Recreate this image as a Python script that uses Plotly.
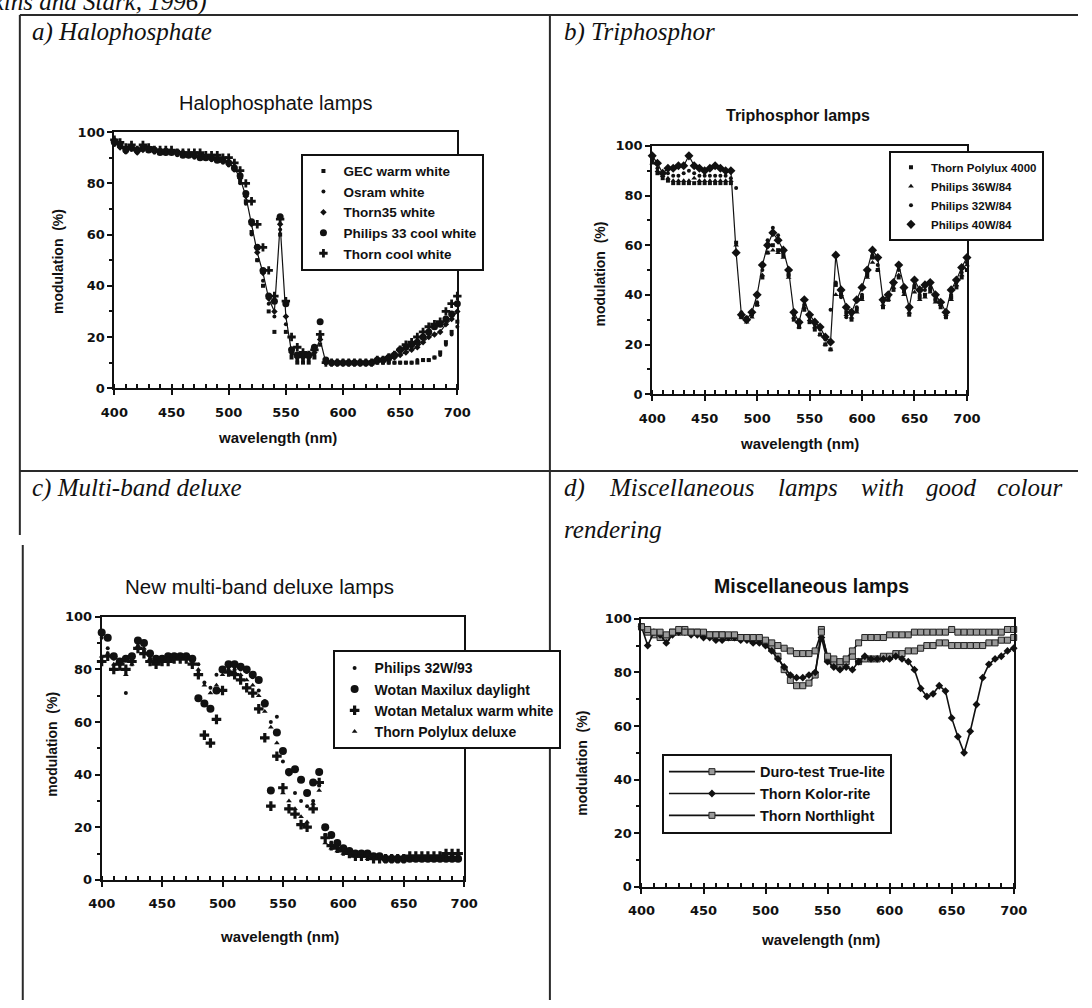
import plotly.graph_objects as go

W, H = 1092, 1008

# ---------------- data ----------------
wl = list(range(400, 701, 5))      # 61 wavelengths
wl_c = list(range(400, 696, 5))    # 60 wavelengths (panel c)

# a) Halophosphate lamps
halo_names = ["GEC warm white", "Osram white", "Thorn35 white", "Philips 33 cool white", "Thorn cool white"]
halo_gec = [96, 95, 93, 94, 93, 94, 93, 93, 92, 93,
            92, 92, 92, 91, 91, 91, 90, 90, 89, 89,
            88, 86, 81, 73, 61, 50, 40, 30, 22, 60,
            22, 12, 10, 10, 10, 12, 17, 10, 10, 10,
            10, 10, 10, 10, 10, 10, 10, 10, 10, 10,
            10, 10, 10, 10, 11, 11, 12, 14, 18, 22,
            26]
halo_osram = [95, 94, 92, 93, 92, 93, 93, 92, 92, 92,
              92, 91, 91, 91, 90, 90, 90, 89, 89, 88,
              87, 85, 80, 72, 60, 50, 42, 33, 28, 62,
              25, 13, 11, 11, 11, 13, 20, 10, 10, 10,
              10, 10, 10, 10, 10, 10, 10, 10, 10, 10,
              10, 10, 10, 11, 11, 11, 12, 13, 17, 21,
              24]
halo_thorn35 = [97, 94, 93, 94, 92, 93, 94, 93, 93, 92,
                92, 92, 92, 91, 91, 91, 90, 90, 90, 89,
                88, 86, 82, 75, 64, 53, 45, 35, 30, 64,
                28, 14, 12, 12, 12, 14, 19, 10, 10, 10,
                10, 10, 10, 10, 10, 10, 11, 11, 11, 12,
                13, 14, 15, 16, 18, 20, 21, 22, 25, 27,
                30]
halo_philips33 = [96, 95, 93, 94, 93, 94, 93, 93, 92, 92,
                  92, 92, 91, 91, 91, 90, 90, 90, 89, 89,
                  88, 86, 83, 76, 65, 55, 46, 36, 34, 67,
                  33, 15, 13, 13, 13, 16, 26, 11, 10, 10,
                  10, 10, 10, 10, 10, 10, 11, 11, 12, 13,
                  15, 16, 17, 18, 20, 22, 24, 25, 27, 29,
                  33]
halo_thorncool = [97, 96, 94, 95, 93, 95, 94, 93, 93, 93,
                  93, 92, 92, 92, 92, 92, 91, 91, 91, 90,
                  90, 88, 85, 80, 73, 64, 55, 46, 36, 66,
                  34, 20, 16, 14, 13, 15, 21, 10, 10, 10,
                  10, 10, 10, 10, 10, 10, 11, 11, 12, 13,
                  15, 17, 18, 20, 22, 24, 25, 26, 30, 33,
                  36]

# b) Triphosphor lamps
tri_names = ["Thorn Polylux 4000", "Philips 36W/84", "Philips 32W/84", "Philips 40W/84"]
tri_polylux = [94, 89, 87, 86, 85, 85, 85, 85, 85, 85,
               85, 85, 85, 85, 85, 85, 61, 31, 30, 32,
               36, 47, 57, 60, 58, 56, 48, 30, 27, 34,
               29, 26, 24, 20, 18, 44, 40, 33, 30, 34,
               39, 48, 55, 50, 35, 38, 42, 47, 42, 32,
               43, 39, 40, 42, 38, 35, 31, 39, 43, 47,
               50]
tri_p36 = [93, 90, 88, 87, 86, 86, 86, 86, 87, 86,
           86, 86, 86, 86, 86, 86, 60, 31, 29, 31,
           36, 48, 57, 58, 57, 55, 47, 31, 27, 35,
           30, 27, 24, 20, 18, 40, 40, 32, 31, 33,
           38, 47, 53, 50, 36, 38, 43, 48, 40, 33,
           41, 38, 39, 41, 37, 36, 32, 38, 44, 48,
           52]
tri_p32 = [95, 91, 89, 89, 88, 88, 89, 90, 89, 88,
           88, 88, 88, 88, 88, 87, 83, 33, 31, 32,
           37, 50, 62, 67, 64, 57, 48, 32, 28, 36,
           31, 28, 26, 22, 34, 45, 39, 31, 32, 35,
           40, 49, 56, 52, 37, 39, 44, 50, 41, 34,
           44, 40, 42, 43, 38, 36, 31, 40, 45, 49,
           53]
tri_p40 = [96, 93, 89, 91, 91, 92, 92, 96, 92, 91,
           90, 91, 92, 91, 90, 90, 57, 32, 30, 33,
           40, 52, 60, 65, 62, 58, 50, 33, 29, 38,
           32, 29, 27, 23, 21, 56, 42, 35, 33, 38,
           43, 50, 58, 55, 38, 40, 45, 52, 43, 35,
           46, 42, 44, 45, 40, 37, 33, 42, 46, 51,
           55]

# c) New multi-band deluxe lamps
mb_names = ["Philips 32W/93", "Wotan Maxilux daylight", "Wotan Metalux warm white", "Thorn Polylux deluxe"]
mb_p32 = [92, 88, 84, 82, 71, 84, 88, 87, 84, 83,
          84, 84, 85, 85, 85, 84, 82, 75, 73, 78,
          80, 81, 80, 80, 79, 77, 72, 68, 60, 62,
          45, 40, 33, 30, 28, 30, 36, 17, 14, 13,
          12, 11, 10, 10, 9, 9, 8, 8, 8, 8,
          8, 8, 8, 8, 8, 8, 8, 9, 9, 9]
mb_maxilux = [94, 92, 85, 83, 84, 85, 91, 90, 86, 84,
              84, 85, 85, 85, 85, 84, 69, 67, 65, 72,
              80, 82, 82, 81, 80, 78, 76, 67, 34, 56,
              49, 41, 42, 38, 33, 37, 41, 20, 17, 14,
              12, 11, 10, 10, 10, 9, 9, 8, 8, 8,
              8, 8, 8, 8, 8, 8, 8, 8, 8, 8]
mb_metalux = [83, 85, 80, 82, 80, 83, 88, 86, 83, 82,
              83, 83, 84, 84, 84, 82, 78, 55, 52, 61,
              72, 79, 78, 76, 73, 71, 65, 54, 28, 47,
              35, 27, 25, 21, 20, 27, 37, 16, 13, 12,
              11, 10, 9, 9, 9, 8, 8, 8, 8, 8,
              8, 9, 9, 9, 9, 9, 9, 10, 10, 10]
mb_polylux = [85, 86, 82, 80, 78, 82, 89, 88, 84, 83,
              83, 84, 84, 85, 84, 83, 80, 74, 71, 74,
              78, 80, 79, 78, 76, 74, 70, 64, 58, 52,
              33, 30, 27, 24, 22, 29, 34, 14, 12, 11,
              10, 10, 9, 9, 8, 8, 8, 7, 7, 7,
              7, 8, 8, 8, 8, 8, 8, 8, 8, 8]

# d) Miscellaneous lamps
misc_names = ["Duro-test True-lite", "Thorn Kolor-rite", "Thorn Northlight"]
misc_duro = [97, 95, 94, 93, 93, 95, 95, 96, 95, 95,
             94, 94, 94, 94, 93, 93, 93, 93, 92, 92,
             91, 89, 86, 81, 77, 75, 75, 76, 79, 96,
             85, 83, 82, 84, 86, 84, 85, 85, 85, 86,
             86, 87, 87, 88, 88, 89, 90, 90, 91, 91,
             90, 90, 90, 90, 90, 90, 91, 91, 92, 92,
             93]
misc_kolor = [97, 90, 95, 94, 91, 94, 95, 95, 94, 94,
              93, 93, 92, 92, 93, 93, 92, 92, 91, 91,
              90, 88, 85, 82, 79, 78, 78, 79, 80, 93,
              84, 82, 81, 82, 81, 84, 86, 85, 85, 85,
              85, 86, 85, 84, 81, 74, 71, 72, 75, 73,
              63, 56, 50, 58, 68, 78, 83, 85, 86, 88,
              89]
misc_north = [97, 96, 95, 95, 94, 95, 96, 95, 95, 95,
              95, 94, 94, 94, 94, 94, 93, 93, 93, 93,
              92, 91, 90, 89, 88, 87, 87, 87, 88, 95,
              86, 85, 84, 85, 88, 91, 93, 93, 93, 93,
              94, 94, 94, 94, 95, 95, 95, 95, 95, 95,
              96, 95, 95, 95, 95, 95, 95, 95, 95, 96,
              96]

x_ticks = [400, 450, 500, 550, 600, 650, 700]
y_ticks = [0, 20, 40, 60, 80, 100]


def px(x):
    return x / W


def py(y):
    return 1 - y / H


fig = go.Figure()
INK = "#111111"

# ---- panel a ----
halo_series = [halo_gec, halo_osram, halo_thorn35, halo_philips33, halo_thorncool]
halo_sym = [("square", 4), ("circle", 4), ("diamond", 5), ("circle", 7), ("cross", 7)]
fig.add_trace(go.Scatter(x=wl, y=halo_thorn35, mode="lines", line=dict(color=INK, width=1.2),
                         showlegend=False, xaxis="x", yaxis="y", hoverinfo="skip"))
for name, ys, (sym, sz) in zip(halo_names, halo_series, halo_sym):
    fig.add_trace(go.Scatter(x=wl, y=ys, name=name, mode="markers",
                             marker=dict(symbol=sym, size=sz, color=INK),
                             xaxis="x", yaxis="y", legend="legend", cliponaxis=False))

# ---- panel b ----
tri_series = [tri_polylux, tri_p36, tri_p32, tri_p40]
tri_sym = [("square", 4), ("triangle-up", 5), ("circle", 4), ("diamond", 7)]
fig.add_trace(go.Scatter(x=wl, y=tri_p40, mode="lines", line=dict(color=INK, width=1.2),
                         showlegend=False, xaxis="x2", yaxis="y2", hoverinfo="skip"))
for name, ys, (sym, sz) in zip(tri_names, tri_series, tri_sym):
    fig.add_trace(go.Scatter(x=wl, y=ys, name=name, mode="markers",
                             marker=dict(symbol=sym, size=sz, color=INK),
                             xaxis="x2", yaxis="y2", legend="legend2", cliponaxis=False))

# ---- panel c ----
mb_series = [mb_p32, mb_maxilux, mb_metalux, mb_polylux]
mb_sym = [("circle", 4), ("circle", 8), ("cross", 8), ("triangle-up", 5)]
for name, ys, (sym, sz) in zip(mb_names, mb_series, mb_sym):
    fig.add_trace(go.Scatter(x=wl_c, y=ys, name=name, mode="markers",
                             marker=dict(symbol=sym, size=sz, color=INK),
                             xaxis="x3", yaxis="y3", legend="legend3", cliponaxis=False))

# ---- panel d ----
misc_series = [misc_duro, misc_kolor, misc_north]
misc_marker = [dict(symbol="square", size=6, color="#9a9a9a", line=dict(color="#222", width=1)),
               dict(symbol="diamond", size=6, color=INK),
               dict(symbol="square", size=6, color="#9a9a9a", line=dict(color="#222", width=1))]
for name, ys, mk in zip(misc_names, misc_series, misc_marker):
    fig.add_trace(go.Scatter(x=wl, y=ys, name=name, mode="lines+markers",
                             line=dict(color=INK, width=1.6), marker=mk,
                             xaxis="x4", yaxis="y4", legend="legend4", cliponaxis=False))

tickfont = dict(family="DejaVu Sans", size=13, color=INK, weight="bold")


def xaxis_cfg(domain, anchor):
    return dict(domain=domain, anchor=anchor, range=[400, 700], tickvals=x_ticks,
                showline=True, linecolor=INK, linewidth=2, mirror=True,
                ticks="outside", ticklen=5, tickwidth=2, tickcolor=INK, ticklabelstandoff=6,
                minor=dict(dtick=10, tick0=400, ticks="inside", ticklen=4, tickwidth=1.5, tickcolor=INK),
                showgrid=False, zeroline=False, tickfont=tickfont, fixedrange=True)


def yaxis_cfg(domain, anchor):
    return dict(domain=domain, anchor=anchor, range=[0, 100], tickvals=y_ticks,
                showline=True, linecolor=INK, linewidth=2, mirror=True,
                ticks="outside", ticklen=5, tickwidth=2, tickcolor=INK,
                minor=dict(dtick=10, tick0=0, ticks="outside", ticklen=3, tickwidth=1.5, tickcolor=INK),
                showgrid=False, zeroline=False, tickfont=tickfont, fixedrange=True)


panels = {
    "a": dict(x=(103, 455), y=(127, 387)),
    "b": dict(x=(655, 978), y=(141, 393)),
    "c": dict(x=(90, 462), y=(619, 886)),
    "d": dict(x=(644, 1026), y=(621, 893)),
}


def dom(p):
    return [px(p["x"][0]), px(p["x"][1])], [py(p["y"][1]), py(p["y"][0])]


xa, ya = dom(panels["a"])
xb, yb = dom(panels["b"])
xc, yc = dom(panels["c"])
xd, yd = dom(panels["d"])


def leg(x, y, size=12, itemwidth=30):
    return dict(x=px(x), y=py(y), xanchor="left", yanchor="top", bgcolor="white",
                bordercolor=INK, borderwidth=2, tracegroupgap=0, itemwidth=itemwidth,
                font=dict(family="Liberation Sans", size=size, color=INK, weight="bold"))


ann = []


def text(x, y, s, size, family="Liberation Sans", xanchor="center", angle=0, bold=False, italic=False, yanchor="middle"):
    t = s
    if italic:
        t = "<i>" + t + "</i>"
    ann.append(dict(x=px(x), y=py(y), xref="paper", yref="paper", text=t, showarrow=False,
                    xanchor=xanchor, yanchor=yanchor, textangle=angle,
                    font=dict(family=family, size=size, color=INK, weight="bold" if bold else "normal")))


SERIF = "Liberation Serif"
HS = 25
# citation line cut off at the top edge of the page
text(200, 11, "(Wilkins and Stark, 1996)", HS, family=SERIF, xanchor="right", italic=True, yanchor="bottom")
# panel headings
text(16, 25, "a) Halophosphate", HS, family=SERIF, xanchor="left", italic=True)
text(562, 25, "b) Triphosphor", HS, family=SERIF, xanchor="left", italic=True)
text(16, 488, "c) Multi-band deluxe", HS, family=SERIF, xanchor="left", italic=True)
for wx, word in [(562, "d)"), (609, "Miscellaneous"), (782, "lamps"), (867, "with"), (934, "good"), (1007, "colour")]:
    text(wx, 488, word, HS, family=SERIF, xanchor="left", italic=True)
text(562, 530, "rendering", HS, family=SERIF, xanchor="left", italic=True)

# chart titles
text(268, 97, "Halophosphate lamps", 20)
text(805, 110, "Triphosphor lamps", 16, bold=True)
text(252, 588, "New multi-band deluxe lamps", 20.5)
text(818, 588, "Miscellaneous lamps", 19.5, bold=True)

# axis titles
for (xx, yy) in [(45, 258), (601, 271), (39, 749), (582, 768)]:
    text(xx, yy, "modulation  (%)", 14, angle=-90, bold=True)
for (xx, yy) in [(270, 437), (806, 443), (272, 944), (828, 947)]:
    text(xx, yy, "wavelength (nm)", 15, bold=True)

# table rules
rule = dict(color="#2a2a2a", width=2)
shapes = [
    dict(type="line", xref="paper", yref="paper", x0=px(6), x1=px(1092), y0=py(8), y1=py(8), line=rule),
    dict(type="line", xref="paper", yref="paper", x0=px(6), x1=px(6), y0=py(8), y1=py(536), line=rule),
    dict(type="line", xref="paper", yref="paper", x0=px(9), x1=px(9), y0=py(546), y1=py(1008), line=rule),
    dict(type="line", xref="paper", yref="paper", x0=px(550), x1=px(550), y0=py(8), y1=py(1008), line=rule),
    dict(type="line", xref="paper", yref="paper", x0=px(6), x1=px(1092), y0=py(471), y1=py(471), line=rule),
]

fig.update_layout(
    width=W, height=H, autosize=False,
    margin=dict(l=0, r=0, t=0, b=0),
    paper_bgcolor="white", plot_bgcolor="white",
    showlegend=True,
    xaxis=xaxis_cfg(xa, "y"), yaxis=yaxis_cfg(ya, "x"),
    xaxis2=xaxis_cfg(xb, "y2"), yaxis2=yaxis_cfg(yb, "x2"),
    xaxis3=xaxis_cfg(xc, "y3"), yaxis3=yaxis_cfg(yc, "x3"),
    xaxis4=xaxis_cfg(xd, "y4"), yaxis4=yaxis_cfg(yd, "x4"),
    legend=leg(295, 149, 13.5),
    legend2=leg(898, 146, 11.5),
    legend3=leg(327, 653, 14),
    legend4=leg(665, 758, 14.5, itemwidth=86),
    annotations=ann,
    shapes=shapes,
)

fig.write_html("out.html")
